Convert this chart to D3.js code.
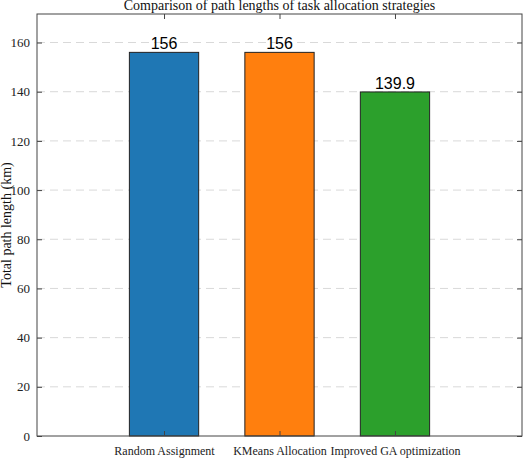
<!DOCTYPE html>
<html><head><meta charset="utf-8">
<script src="https://cdn.jsdelivr.net/npm/d3@7"></script>
<style>body{margin:0;background:#fff}</style></head>
<body><svg id="c" width="524" height="458"></svg>
<script>
const categories=["Random Assignment","KMeans Allocation","Improved GA optimization"];
const values=[156,156,139.9];
const labels=["156","156","139.9"];
const colors=["#1f77b4","#ff7f0e","#2ca02c"];
const yTicks=[0,20,40,60,80,100,120,140,160];
const svg=d3.select("#c");
const L=37,R=522,T=14,B=436;
const x=d3.scaleLinear().domain([-1.1,3.1]).range([L,R]);
const y=d3.scaleLinear().domain([0,171.6]).range([B,T]);
const serif="'Liberation Serif','Times New Roman',serif";
svg.append("g").selectAll("line").data(yTicks.slice(1)).join("line")
 .attr("x1",L).attr("x2",R).attr("y1",d=>y(d)).attr("y2",d=>y(d))
 .attr("stroke","#d9d9d9").attr("stroke-dasharray","8,5").attr("stroke-width",1);
svg.append("g").selectAll("rect").data(values).join("rect")
 .attr("x",(d,i)=>x(i-0.3)).attr("width",x(0.3)-x(-0.3))
 .attr("y",d=>y(d)).attr("height",d=>B-y(d))
 .attr("fill",(d,i)=>colors[i]).attr("stroke","#222").attr("stroke-width",1);
svg.append("g").selectAll("text").data(values).join("text")
 .attr("x",(d,i)=>x(i)).attr("y",d=>y(d)-3).attr("text-anchor","middle")
 .attr("font-family","'Liberation Sans',Arial,sans-serif").attr("font-size",16).text((d,i)=>labels[i]);
svg.append("g").attr("transform",`translate(0,${B})`)
 .call(d3.axisBottom(x).tickValues([0,1,2]).tickFormat(i=>categories[i]).tickSizeInner(-5).tickSizeOuter(0).tickPadding(10))
 .selectAll("text").attr("class","xt");
svg.append("g").attr("transform",`translate(${L},0)`)
 .call(d3.axisLeft(y).tickValues(yTicks).tickSizeInner(-5).tickSizeOuter(0).tickPadding(7));
svg.append("g").attr("transform",`translate(0,${T})`)
 .call(d3.axisTop(x).tickValues([0,1,2]).tickFormat("").tickSizeInner(-5).tickSizeOuter(0));
svg.append("g").attr("transform",`translate(${R},0)`)
 .call(d3.axisRight(y).tickValues(yTicks).tickFormat("").tickSizeInner(-5).tickSizeOuter(0));
svg.selectAll(".domain").remove();
svg.selectAll(".tick line").attr("stroke","#444");
svg.selectAll(".tick text").attr("font-family",serif).attr("font-size",13).attr("fill","#222");
svg.selectAll(".xt").attr("font-size",12);
svg.append("rect").attr("x",L).attr("y",T).attr("width",R-L).attr("height",B-T)
 .attr("fill","none").attr("stroke","#444").attr("stroke-width",1);
svg.append("text").attr("x",(L+R)/2).attr("y",10).attr("text-anchor","middle")
 .attr("font-family",serif).attr("font-size",14).attr("fill","#111")
 .text("Comparison of path lengths of task allocation strategies");
svg.append("text").attr("transform",`translate(11,${(T+B)/2}) rotate(-90)`).attr("text-anchor","middle")
 .attr("font-family",serif).attr("font-size",14).attr("fill","#111").text("Total path length (km)");
</script></body></html>
